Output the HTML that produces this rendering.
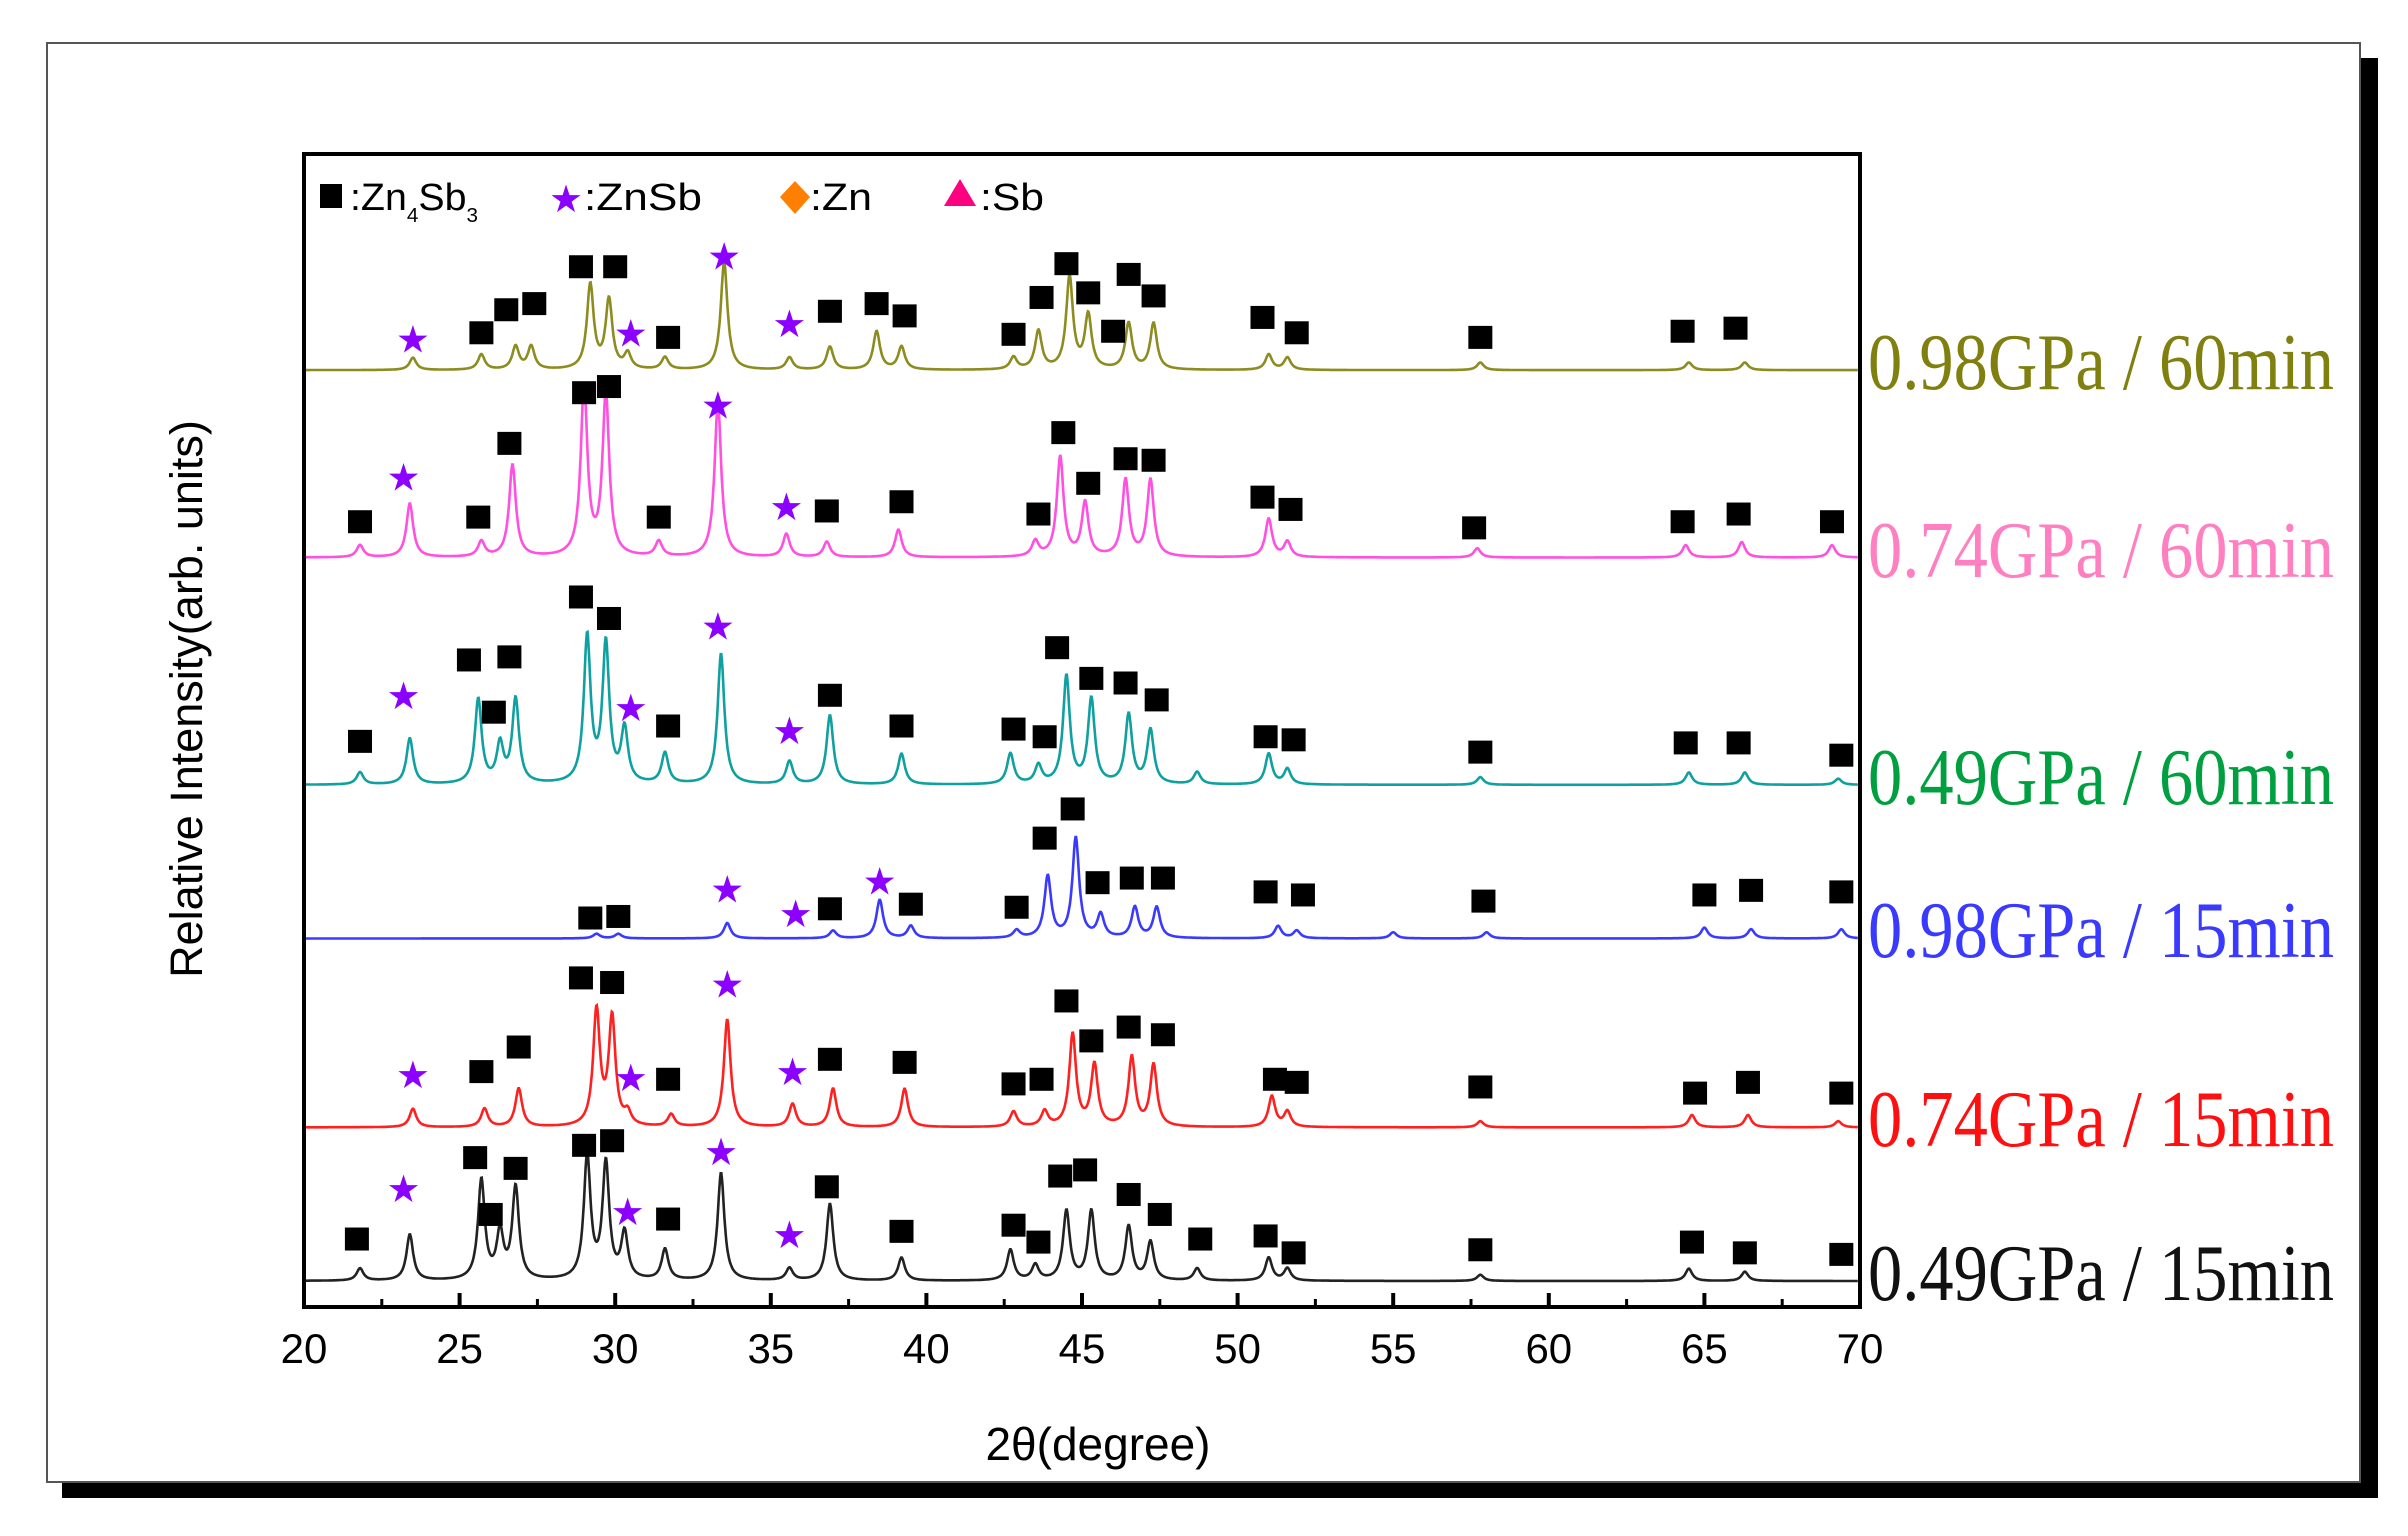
<!DOCTYPE html>
<html><head><meta charset="utf-8"><style>
html,body{margin:0;padding:0;background:#fff;width:2408px;height:1536px;overflow:hidden}
svg{display:block}
</style></head><body>
<svg id="chart" width="2408" height="1536" viewBox="0 0 2408 1536" xmlns="http://www.w3.org/2000/svg">
<rect x="2360" y="58" width="18" height="1440" fill="#000"/>
<rect x="62" y="1482" width="2316" height="16" fill="#000"/>
<rect x="47" y="43" width="2313" height="1439" fill="#fff" stroke="#555" stroke-width="2"/>
<g id="plot"></g>
<rect x="304" y="154" width="1556" height="1153" fill="none" stroke="#000" stroke-width="4"/>
<g id="legend" font-family="Liberation Sans, sans-serif" font-size="38">
 <rect x="320" y="184" width="22" height="24" fill="#000"/>
 <text x="350" y="210" textLength="128" lengthAdjust="spacingAndGlyphs">:Zn<tspan font-size="20" dy="12">4</tspan><tspan dy="-12">Sb</tspan><tspan font-size="20" dy="12">3</tspan></text>
 <text x="549" y="212" font-size="38" fill="#8b00ff">★</text>
 <text x="584" y="210" textLength="118" lengthAdjust="spacingAndGlyphs">:ZnSb</text>
 <path d="M795 181 L810 197 L795 214 L780 197Z" fill="#ff7f00"/>
 <text x="810" y="210" textLength="62" lengthAdjust="spacingAndGlyphs">:Zn</text>
 <path d="M960 179 L976 206 L944 206Z" fill="#ff0080"/>
 <text x="980" y="210" textLength="64" lengthAdjust="spacingAndGlyphs">:Sb</text>
</g>
<text x="1098" y="1460" text-anchor="middle" font-family="Liberation Sans, DejaVu Sans, sans-serif" font-size="46">2θ(degree)</text>
<text transform="translate(202,699) rotate(-90)" text-anchor="middle" font-family="Liberation Sans, sans-serif" font-size="45">Relative Intensity(arb. units)</text>
<g id="xticks"></g>
<g id="labels" font-family="Liberation Serif, serif" font-size="80"></g>
</svg>
<script>
const NS='http://www.w3.org/2000/svg';
const xTicks=[20,25,30,35,40,45,50,55,60,65,70];
const minorTicks=[22.5,27.5,32.5,37.5,42.5,47.5,52.5,57.5,62.5,67.5];
const seriesNames=['0.49GPa / 15min','0.74GPa / 15min','0.98GPa / 15min','0.49GPa / 60min','0.74GPa / 60min','0.98GPa / 60min'];
const seriesColors=['#222','#ff2020','#3a3aff','#10a0a0','#ff50e0','#8c8c20'];
const labelColors=['#111','#ff1010','#3a3aff','#00a040','#ff80c0','#808010'];
const seriesOffsets=[0,100,223,323,471,593];
// peaks: [2theta, height]
const peaks0=[[21.8,8],[23.4,30],[25.7,65],[26.3,30],[26.8,60],[29.1,80],[29.7,75],[30.3,30],[31.6,20],[33.4,70],[35.6,8],[36.9,50],[39.2,15],[42.7,20],[43.5,10],[44.5,45],[45.3,45],[46.5,35],[47.2,25],[48.7,8],[51.0,15],[51.6,8],[57.8,4],[64.5,8],[66.3,6]];
const peaks1=[[23.5,12],[25.8,12],[26.9,25],[29.4,75],[29.9,70],[30.4,8],[31.8,8],[33.6,70],[35.7,15],[37.0,25],[39.3,25],[42.8,10],[43.8,10],[44.7,60],[45.4,40],[46.6,45],[47.3,40],[51.1,20],[51.6,10],[57.8,4],[64.6,8],[66.4,8],[69.3,4]];
const peaks2=[[29.4,3],[30.1,3],[33.6,10],[37.0,5],[38.5,25],[39.5,8],[42.9,5],[43.9,40],[44.8,65],[45.6,15],[46.7,20],[47.4,20],[51.3,8],[51.9,5],[55,4],[58,4],[65,7],[66.5,6],[69.4,6]];
const peaks3=[[21.8,8],[23.4,30],[25.6,55],[26.3,25],[26.8,55],[29.1,95],[29.7,90],[30.3,35],[31.6,20],[33.4,85],[35.6,15],[36.9,45],[39.2,20],[42.7,20],[43.6,12],[44.5,70],[45.3,55],[46.5,45],[47.2,35],[48.7,8],[51.0,20],[51.6,10],[57.8,5],[64.5,8],[66.3,8],[69.3,4]];
const peaks4=[[21.8,8],[23.4,35],[25.7,10],[26.7,60],[29.0,110],[29.7,105],[31.4,10],[33.3,100],[35.5,15],[36.8,10],[39.1,18],[43.5,10],[44.3,65],[45.1,35],[46.4,50],[47.2,50],[51.0,25],[51.6,10],[57.7,6],[64.4,8],[66.2,10],[69.1,8]];
const peaks5=[[23.5,8],[25.7,10],[26.8,15],[27.3,15],[29.2,55],[29.8,45],[30.4,10],[31.6,8],[33.5,70],[35.6,8],[36.9,15],[38.4,25],[39.2,15],[42.8,8],[43.6,25],[44.6,60],[45.2,35],[46.5,30],[47.3,30],[51.0,10],[51.6,8],[57.8,5],[64.5,5],[66.3,5]];
// markers: [2theta, level above baseline, type s=square t=star]
const marks0=[[21.7,27,'s'],[23.2,60,'t'],[25.5,80,'s'],[26.0,43,'s'],[26.8,73,'s'],[29.0,88,'s'],[29.9,91,'s'],[30.4,45,'t'],[31.7,40,'s'],[33.4,84,'t'],[35.6,30,'t'],[36.8,61,'s'],[39.2,32,'s'],[42.8,36,'s'],[43.6,25,'s'],[44.3,68,'s'],[45.1,72,'s'],[46.5,56,'s'],[47.5,43,'s'],[48.8,27,'s'],[50.9,29,'s'],[51.8,18,'s'],[57.8,20,'s'],[64.6,25,'s'],[66.3,18,'s'],[69.4,17,'s']];
const marks1=[[23.5,34,'t'],[25.7,36,'s'],[26.9,52,'s'],[28.9,97,'s'],[29.9,94,'s'],[30.5,32,'t'],[31.7,31,'s'],[33.6,93,'t'],[35.7,36,'t'],[36.9,44,'s'],[39.3,42,'s'],[42.8,28,'s'],[43.7,31,'s'],[44.5,82,'s'],[45.3,56,'s'],[46.5,65,'s'],[47.6,60,'s'],[51.2,31,'s'],[51.9,29,'s'],[57.8,26,'s'],[64.7,22,'s'],[66.4,29,'s'],[69.4,22,'s']];
const marks2=[[29.2,13,'s'],[30.1,14,'s'],[33.6,32,'t'],[35.8,16,'t'],[36.9,19,'s'],[38.5,37,'t'],[39.5,22,'s'],[42.9,20,'s'],[43.8,65,'s'],[44.7,84,'s'],[45.5,36,'s'],[46.6,39,'s'],[47.6,39,'s'],[50.9,30,'s'],[52.1,28,'s'],[57.9,24,'s'],[65.0,28,'s'],[66.5,31,'s'],[69.4,30,'s']];
const marks3=[[21.8,28,'s'],[23.2,58,'t'],[25.3,81,'s'],[26.1,47,'s'],[26.6,83,'s'],[28.9,122,'s'],[29.8,108,'s'],[30.5,50,'t'],[31.7,38,'s'],[33.3,103,'t'],[35.6,35,'t'],[36.9,58,'s'],[39.2,38,'s'],[42.8,36,'s'],[43.8,31,'s'],[44.2,89,'s'],[45.3,69,'s'],[46.4,66,'s'],[47.4,55,'s'],[50.9,31,'s'],[51.8,29,'s'],[57.8,21,'s'],[64.4,27,'s'],[66.1,27,'s'],[69.4,19,'s']];
const marks4=[[21.8,23,'s'],[23.2,52,'t'],[25.6,26,'s'],[26.6,74,'s'],[29.0,107,'s'],[29.8,111,'s'],[31.4,26,'s'],[33.3,99,'t'],[35.5,33,'t'],[36.8,30,'s'],[39.2,36,'s'],[43.6,28,'s'],[44.4,81,'s'],[45.2,48,'s'],[46.4,64,'s'],[47.3,63,'s'],[50.8,39,'s'],[51.7,31,'s'],[57.6,19,'s'],[64.3,23,'s'],[66.1,28,'s'],[69.1,23,'s']];
const marks5=[[23.5,20,'t'],[25.7,24,'s'],[26.5,39,'s'],[27.4,43,'s'],[28.9,67,'s'],[30.0,67,'s'],[30.5,24,'t'],[31.7,21,'s'],[33.5,74,'t'],[35.6,30,'t'],[36.9,38,'s'],[38.4,43,'s'],[39.3,35,'s'],[42.8,23,'s'],[43.7,47,'s'],[44.5,69,'s'],[45.2,50,'s'],[46.0,25,'s'],[46.5,62,'s'],[47.3,48,'s'],[50.8,34,'s'],[51.9,24,'s'],[57.8,21,'s'],[64.3,25,'s'],[66.0,27,'s']];
const allPeaks=[peaks0,peaks1,peaks2,peaks3,peaks4,peaks5];
const allMarks=[marks0,marks1,marks2,marks3,marks4,marks5];

const X0=304,X1=1860,D0=20,D1=70,BASE0=1281,YS=1.536;
function xs(d){return X0+(d-D0)*(X1-X0)/(D1-D0);}
function ys(i,h){return BASE0-(seriesOffsets[i]+h)*YS;}

const plot=document.getElementById('plot');
const xt=document.getElementById('xticks');
xTicks.forEach(t=>{
  const l=document.createElementNS(NS,'line');
  
  
  l.setAttribute('x1',xs(t));l.setAttribute('x2',xs(t));l.setAttribute('y1',1307);l.setAttribute('y2',1293);
  l.setAttribute('stroke','#000');l.setAttribute('stroke-width',4);
  xt.appendChild(l);
  const tx=document.createElementNS(NS,'text');
  
  
  tx.setAttribute('x',xs(t));tx.setAttribute('y',1363);tx.setAttribute('text-anchor','middle');
  tx.setAttribute('font-family','Liberation Sans, sans-serif');tx.setAttribute('font-size','42');
  tx.textContent=t;xt.appendChild(tx);
});
minorTicks.forEach(t=>{
  const l=document.createElementNS(NS,'line');
  
  
  l.setAttribute('x1',xs(t));l.setAttribute('x2',xs(t));l.setAttribute('y1',1307);l.setAttribute('y2',1299);
  l.setAttribute('stroke','#000');l.setAttribute('stroke-width',3);
  xt.appendChild(l);
});

allPeaks.forEach((pk,i)=>{
  let d='';
  for(let a=20.05;a<=69.95;a+=0.02){
    let h=0;
    pk.forEach(p=>{const w=0.13;const dx=(a-p[0])/w;h+=p[1]/(1+dx*dx);});
    d+=(d?'L':'M')+xs(a).toFixed(1)+' '+ys(i,h).toFixed(1);
  }
  const path=document.createElementNS(NS,'path');
  
  
  path.setAttribute('d',d);path.setAttribute('fill','none');
  path.setAttribute('stroke',seriesColors[i]);path.setAttribute('stroke-width','2.6');
  plot.appendChild(path);
  allMarks[i].forEach(m=>{
    const cx=xs(m[0]),cy=ys(i,m[1]);
    if(m[2]==='s'){
      const r=document.createElementNS(NS,'rect');
      
      
      r.setAttribute('x',cx-12);r.setAttribute('y',cy-12);r.setAttribute('width',24);r.setAttribute('height',23);
      r.setAttribute('fill','#000');plot.appendChild(r);
    }else{
      const s=document.createElementNS(NS,'text');
      
      
      s.setAttribute('x',cx);s.setAttribute('y',cy+13);s.setAttribute('text-anchor','middle');
      s.setAttribute('font-size','38');s.setAttribute('fill','#8b00ff');
      s.setAttribute('font-family','DejaVu Sans, sans-serif');
      s.textContent='★';plot.appendChild(s);
    }
  });
});
const lab=document.getElementById('labels');
seriesNames.forEach((n,i)=>{
  const t=document.createElementNS(NS,'text');
  
  
  t.setAttribute('x',1868);t.setAttribute('y',(ys(i,0)+19).toFixed(0));
  t.setAttribute('fill',labelColors[i]);
  t.setAttribute('textLength','466');t.setAttribute('lengthAdjust','spacingAndGlyphs');
  t.textContent=n;lab.appendChild(t);
});
</script>
</body></html>
